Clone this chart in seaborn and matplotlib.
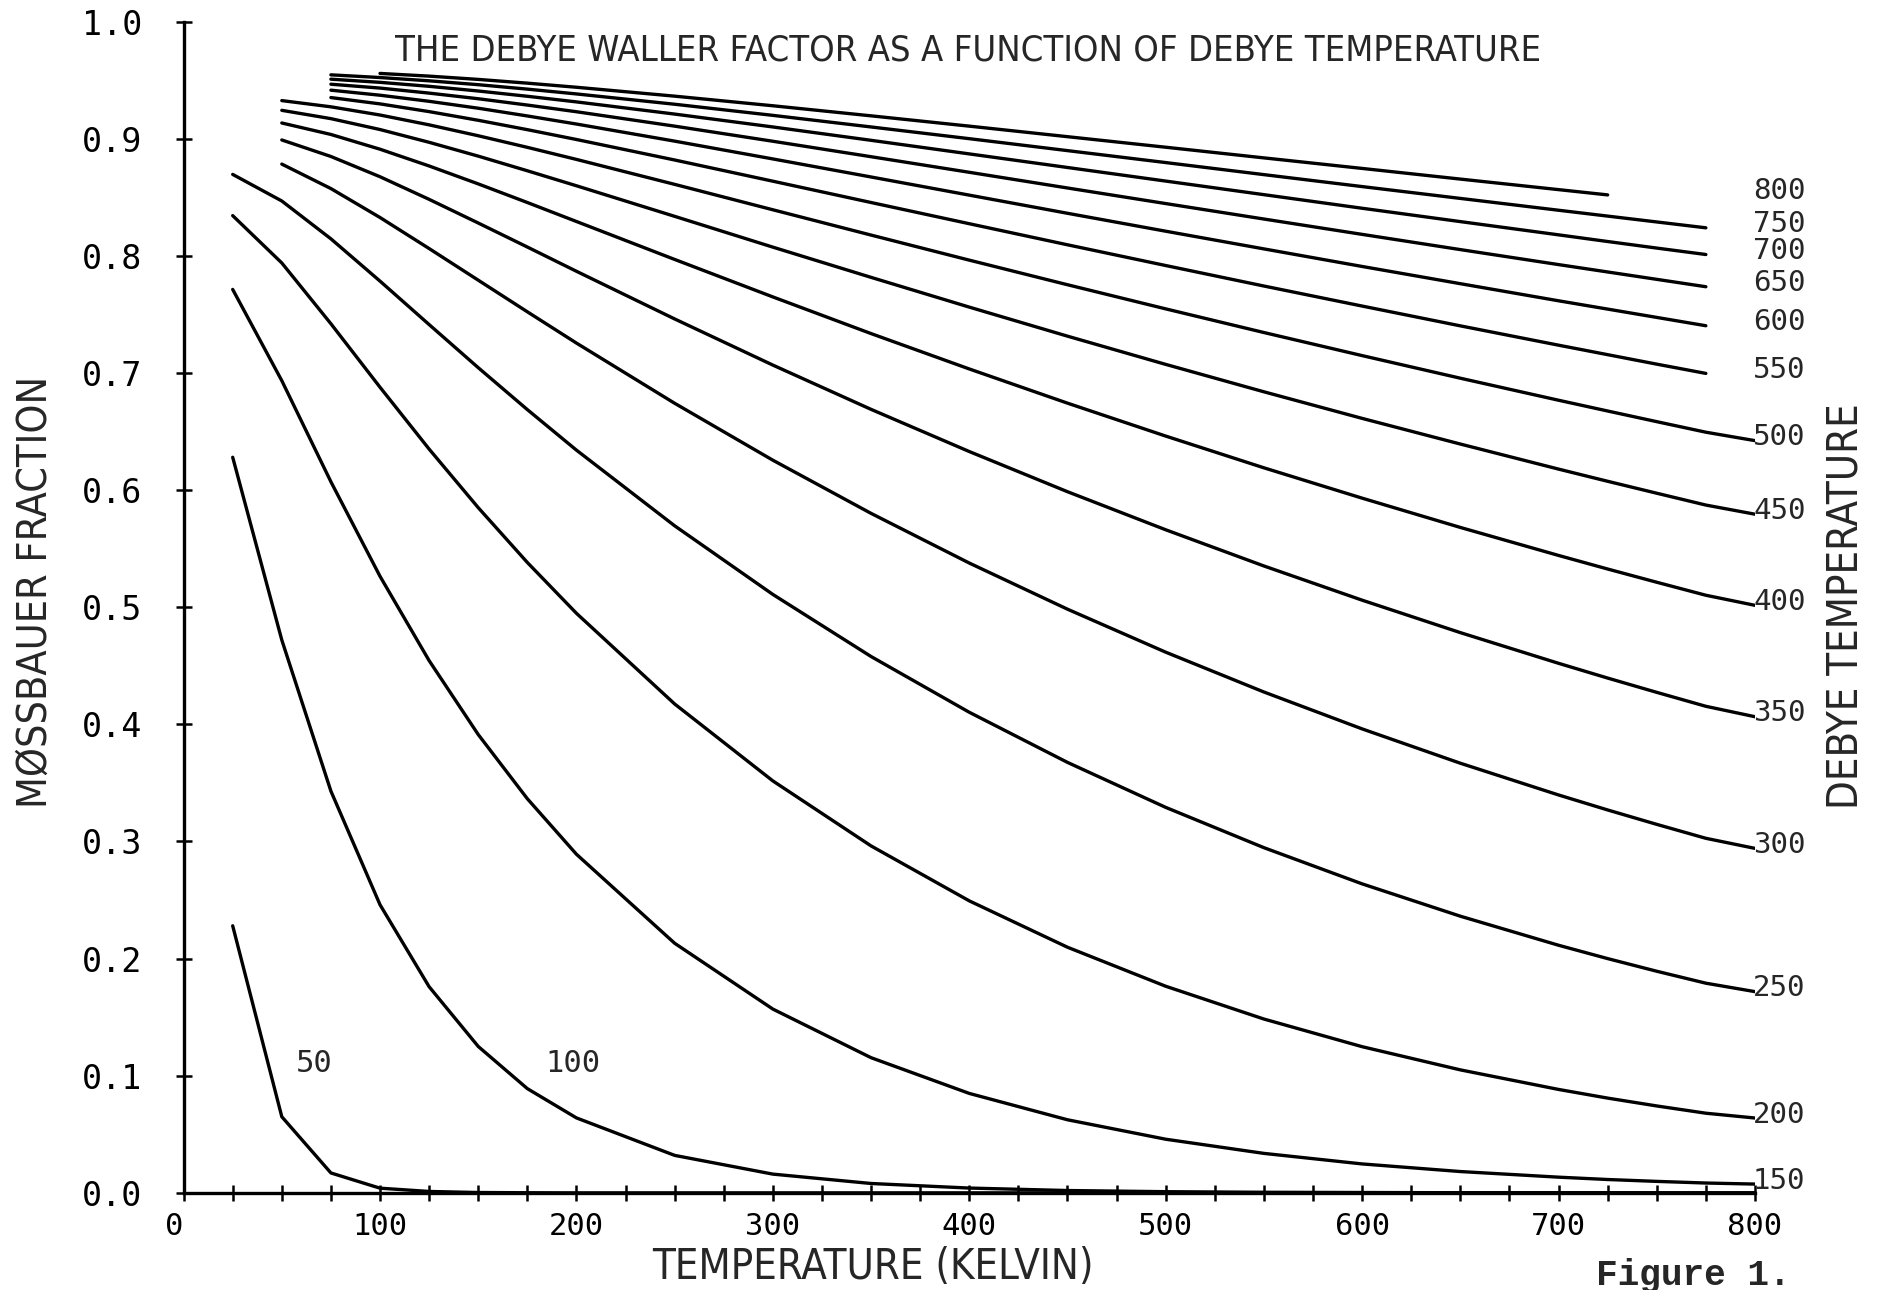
import numpy as np
import pandas as pd
import matplotlib
matplotlib.use("Agg")
import matplotlib.pyplot as plt
import seaborn as sns
from matplotlib import font_manager

nan = float("nan")

# ---------------- data ----------------
temperature = [25, 50, 75, 100, 125, 150, 175, 200, 250, 300, 350, 400,
               450, 500, 550, 600, 650, 700, 725, 750, 775, 800]

debye_temps = [50, 100, 150, 200, 250, 300, 350, 400, 450, 500,
               550, 600, 650, 700, 750, 800]

f_50 = [0.228, 0.065, 0.017, 0.004, 0.0012, 0.0003, 0.0001, 0.0, 0.0, 0.0, 0.0,
        0.0, 0.0, 0.0, 0.0, 0.0, 0.0, 0.0, 0.0, 0.0, 0.0, 0.0]
f_100 = [0.628, 0.472, 0.343, 0.246, 0.176, 0.125, 0.089, 0.064, 0.032, 0.016, 0.008,
         0.0041, 0.0020, 0.0010, 0.0005, 0.0003, 0.0001, 0.0001, 0.0001, 0.0, 0.0, 0.0]
f_150 = [0.7713, 0.6934, 0.6071, 0.5264, 0.4544, 0.3913, 0.3365, 0.2891, 0.2131, 0.1569, 0.1154,
         0.0849, 0.0624, 0.0458, 0.0337, 0.0247, 0.0182, 0.0134, 0.0114, 0.0098, 0.0084, 0.0075]
f_200 = [0.8343, 0.7939, 0.7420, 0.6878, 0.6350, 0.5850, 0.5382, 0.4948, 0.4174, 0.3517, 0.2962,
         0.2493, 0.2097, 0.1764, 0.1484, 0.1248, 0.1050, 0.0883, 0.0809, 0.0742, 0.0680, 0.0639]
f_250 = [0.8695, 0.8468, 0.8145, 0.7784, 0.7413, 0.7045, 0.6687, 0.6341, 0.5695, 0.5109, 0.4579,
         0.4103, 0.3675, 0.3291, 0.2947, 0.2638, 0.2362, 0.2114, 0.2000, 0.1892, 0.1790, 0.1718]
f_300 = [nan, 0.8783, 0.8574, 0.8327, 0.8062, 0.7792, 0.7522, 0.7255, 0.6741, 0.6255, 0.5801,
         0.5377, 0.4983, 0.4616, 0.4276, 0.3961, 0.3668, 0.3397, 0.3269, 0.3146, 0.3027, 0.2941]
f_350 = [nan, 0.8989, 0.8848, 0.8675, 0.8482, 0.8280, 0.8075, 0.7868, 0.7461, 0.7067, 0.6689,
         0.6329, 0.5986, 0.5661, 0.5352, 0.5060, 0.4783, 0.4521, 0.4395, 0.4273, 0.4154, 0.4065]
f_400 = [nan, 0.9134, 0.9036, 0.8910, 0.8767, 0.8614, 0.8455, 0.8293, 0.7969, 0.7649, 0.7336,
         0.7034, 0.6742, 0.6461, 0.6190, 0.5931, 0.5681, 0.5442, 0.5326, 0.5213, 0.5102, 0.5016]
f_450 = [nan, 0.9242, 0.9171, 0.9078, 0.8969, 0.8851, 0.8726, 0.8598, 0.8337, 0.8074, 0.7816,
         0.7562, 0.7314, 0.7073, 0.6839, 0.6612, 0.6393, 0.6179, 0.6075, 0.5973, 0.5872, 0.5794]
f_500 = [nan, 0.9325, 0.9272, 0.9202, 0.9118, 0.9025, 0.8926, 0.8823, 0.8610, 0.8393, 0.8177,
         0.7963, 0.7753, 0.7547, 0.7345, 0.7148, 0.6955, 0.6767, 0.6675, 0.6584, 0.6494, 0.6422]
f_550 = [nan, nan, 0.9351, 0.9297, 0.9231, 0.9157, 0.9077, 0.8993, 0.8818, 0.8637, 0.8455,
         0.8274, 0.8094, 0.7917, 0.7742, 0.7571, 0.7402, 0.7237, 0.7156, 0.7075, 0.6996, nan]
f_600 = [nan, nan, 0.9414, 0.9371, 0.9319, 0.9260, 0.9194, 0.9125, 0.8979, 0.8827, 0.8673,
         0.8518, 0.8363, 0.8210, 0.8059, 0.7909, 0.7762, 0.7616, 0.7545, 0.7474, 0.7403, nan]
f_650 = [nan, nan, 0.9465, 0.9432, 0.9389, 0.9341, 0.9287, 0.9230, 0.9107, 0.8978, 0.8846,
         0.8713, 0.8579, 0.8446, 0.8314, 0.8183, 0.8053, 0.7925, 0.7862, 0.7799, 0.7736, nan]
f_700 = [nan, nan, 0.9508, 0.9481, 0.9447, 0.9407, 0.9362, 0.9314, 0.9210, 0.9100, 0.8986,
         0.8870, 0.8754, 0.8638, 0.8522, 0.8406, 0.8292, 0.8179, 0.8122, 0.8066, 0.8011, nan]
f_750 = [nan, nan, 0.9545, 0.9522, 0.9494, 0.9461, 0.9423, 0.9382, 0.9294, 0.9199, 0.9100,
         0.9000, 0.8898, 0.8796, 0.8693, 0.8591, 0.8490, 0.8389, 0.8339, 0.8289, 0.8239, nan]
f_800 = [nan, nan, nan, 0.9557, 0.9534, 0.9506, 0.9474, 0.9439, 0.9363, 0.9281, 0.9195,
         0.9107, 0.9017, 0.8927, 0.8836, 0.8746, 0.8655, 0.8565, 0.8520, nan, nan, nan]

fractions = [f_50, f_100, f_150, f_200, f_250, f_300, f_350, f_400,
             f_450, f_500, f_550, f_600, f_650, f_700, f_750, f_800]

x_ticks = [0, 100, 200, 300, 400, 500, 600, 700, 800]
y_ticks = [0.0, 0.1, 0.2, 0.3, 0.4, 0.5, 0.6, 0.7, 0.8, 0.9, 1.0]
y_tick_labels = ["0.0", "0.1", "0.2", "0.3", "0.4", "0.5", "0.6", "0.7", "0.8", "0.9", "1.0"]

title = "THE DEBYE WALLER FACTOR AS A FUNCTION OF DEBYE TEMPERATURE"
x_label = "TEMPERATURE (KELVIN)"
y_label = "MØSSBAUER FRACTION"
right_label = "DEBYE TEMPERATURE"
caption = "Figure 1."

# ---------------- long table ----------------
rows = []
for theta, vals in zip(debye_temps, fractions):
    for t, v in zip(temperature, vals):
        if not np.isnan(v):
            rows.append({"temperature": t, "fraction": v, "debye": theta})
df = pd.DataFrame(rows)

# ---------------- style ----------------
sns.set_style("ticks")
mono = ["DejaVu Sans Mono", "DejaVu Sans"]
installed = {f.name for f in font_manager.fontManager.ttflist}
if "Liberation Sans Narrow" in installed:
    narrow = dict(family=["Liberation Sans Narrow", "DejaVu Sans"])
    scale = 1.19
else:
    narrow = dict(family=["DejaVu Sans"], fontstretch="condensed")
    scale = 1.0
plt.rcParams["font.family"] = mono

fig = plt.figure(figsize=(18.81, 12.90), dpi=100)
fig.patch.set_facecolor("white")
ax = fig.add_axes([0.0976, 0.0753, 0.8354, 0.908])
ax.set_facecolor("white")

sns.lineplot(data=df, x="temperature", y="fraction", units="debye",
             estimator=None, sort=False, color="black", linewidth=2.4, ax=ax)

ax.set_xlim(0, 800)
ax.set_ylim(0, 1.0)
ax.set_xlabel("")
ax.set_ylabel("")
for s in ["top", "right"]:
    ax.spines[s].set_visible(False)
for s in ["left", "bottom"]:
    ax.spines[s].set_linewidth(2.4)
    ax.spines[s].set_color("black")

ax.set_yticks(y_ticks)
ax.set_yticklabels(y_tick_labels)
ax.set_xticks(x_ticks)
ax.set_xticklabels([str(v) for v in x_ticks])
ax.set_xticks(np.arange(25, 800, 25), minor=True)
ax.tick_params(axis="both", which="both", direction="inout", length=11,
               width=1.8, colors="black")
ax.tick_params(axis="y", pad=24, labelsize=24)
ax.tick_params(axis="x", pad=8, labelsize=22)
ax.get_xticklabels()[0].set_horizontalalignment("right")

# curve labels at the right end of each curve
for theta, vals in zip(debye_temps[2:], fractions[2:]):
    last = [v for v in vals if not np.isnan(v)][-1]
    ax.text(799, last + 0.003, str(theta), ha="left", va="center",
            fontsize=21, clip_on=False, family=mono)

# inline labels for the two lowest curves
ax.text(57, 0.1107, "50", ha="left", va="center", fontsize=22, family=mono)
ax.text(184, 0.1107, "100", ha="left", va="center", fontsize=22, family=mono)

fig.text(0.5147, 0.961, title, ha="center", va="center", fontsize=26 / scale, **narrow)
fig.text(0.464, 0.0175, x_label, ha="center", va="center", fontsize=30 / scale, **narrow)
fig.text(0.019, 0.5414, y_label, ha="center", va="center", rotation=90,
         fontsize=29.5 / scale, **narrow)
fig.text(0.981, 0.530, right_label, ha="center", va="center", rotation=90,
         fontsize=30 / scale, **narrow)
fig.text(0.8485, 0.0245, caption, ha="left", va="top", fontsize=26,
         family=["Liberation Mono", "DejaVu Sans Mono"], fontweight="bold")

fig.savefig("out.png", dpi=100, facecolor="white")
